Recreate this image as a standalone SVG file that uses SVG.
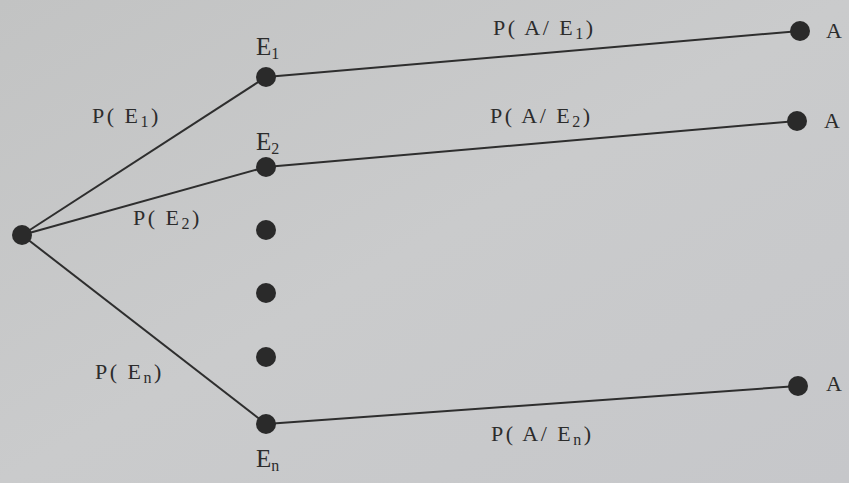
<svg xmlns="http://www.w3.org/2000/svg" width="849" height="483" viewBox="0 0 849 483">
<defs>
<linearGradient id="bg" x1="0" y1="0" x2="1" y2="1">
<stop offset="0" stop-color="#c2c3c3"/>
<stop offset="0.5" stop-color="#cacbcc"/>
<stop offset="1" stop-color="#c6c7ca"/>
</linearGradient>
</defs>
<style>
.ln{stroke:#2e2e2e;stroke-width:2;fill:none}
.nd{fill:#2a2a2a}
.t{font-family:"Liberation Serif",serif;font-size:22px;fill:#2c2c2c;letter-spacing:2.5px}
.e{font-size:25px;letter-spacing:0}
.s{font-size:16px}
</style>
<rect width="849" height="483" fill="url(#bg)"/>
<g id="connectors">
<line class="ln" x1="22" y1="235" x2="266" y2="77"/>
<line class="ln" x1="22" y1="235" x2="266" y2="167"/>
<line class="ln" x1="22" y1="235" x2="266" y2="424"/>
<line class="ln" x1="266" y1="77" x2="800" y2="31"/>
<line class="ln" x1="266" y1="167" x2="797" y2="121"/>
<line class="ln" x1="266" y1="424" x2="798" y2="386"/>
</g>
<g id="root"><circle class="nd" cx="22" cy="235" r="10"/></g>
<g id="E1"><circle class="nd" cx="266" cy="77" r="10"/><text class="t e" x="256" y="55">E<tspan class="s" dy="4">1</tspan></text></g>
<g id="E2"><circle class="nd" cx="266" cy="167" r="10"/><text class="t e" x="256" y="150">E<tspan class="s" dy="4">2</tspan></text></g>
<g id="dot1"><circle class="nd" cx="266" cy="230" r="10"/></g>
<g id="dot2"><circle class="nd" cx="266" cy="293" r="10"/></g>
<g id="dot3"><circle class="nd" cx="266" cy="357" r="10"/></g>
<g id="En"><circle class="nd" cx="266" cy="424" r="10"/><text class="t e" x="256" y="467">E<tspan class="s" dy="4">n</tspan></text></g>
<g id="A1"><circle class="nd" cx="800" cy="31" r="10"/><text class="t" x="826" y="38">A</text></g>
<g id="A2"><circle class="nd" cx="797" cy="121" r="10"/><text class="t" x="824" y="128">A</text></g>
<g id="An"><circle class="nd" cx="798" cy="386" r="10"/><text class="t" x="826" y="391">A</text></g>
<g id="labels">
<text class="t" x="92" y="123">P( E<tspan class="s" dy="4">1</tspan><tspan dy="-4">)</tspan></text>
<text class="t" x="133" y="225">P( E<tspan class="s" dy="4">2</tspan><tspan dy="-4">)</tspan></text>
<text class="t" x="95" y="379">P( E<tspan class="s" dy="4">n</tspan><tspan dy="-4">)</tspan></text>
<text class="t" x="493" y="35">P( A/ E<tspan class="s" dy="4">1</tspan><tspan dy="-4">)</tspan></text>
<text class="t" x="490" y="123">P( A/ E<tspan class="s" dy="4">2</tspan><tspan dy="-4">)</tspan></text>
<text class="t" x="491" y="441">P( A/ E<tspan class="s" dy="4">n</tspan><tspan dy="-4">)</tspan></text>
</g>
</svg>
